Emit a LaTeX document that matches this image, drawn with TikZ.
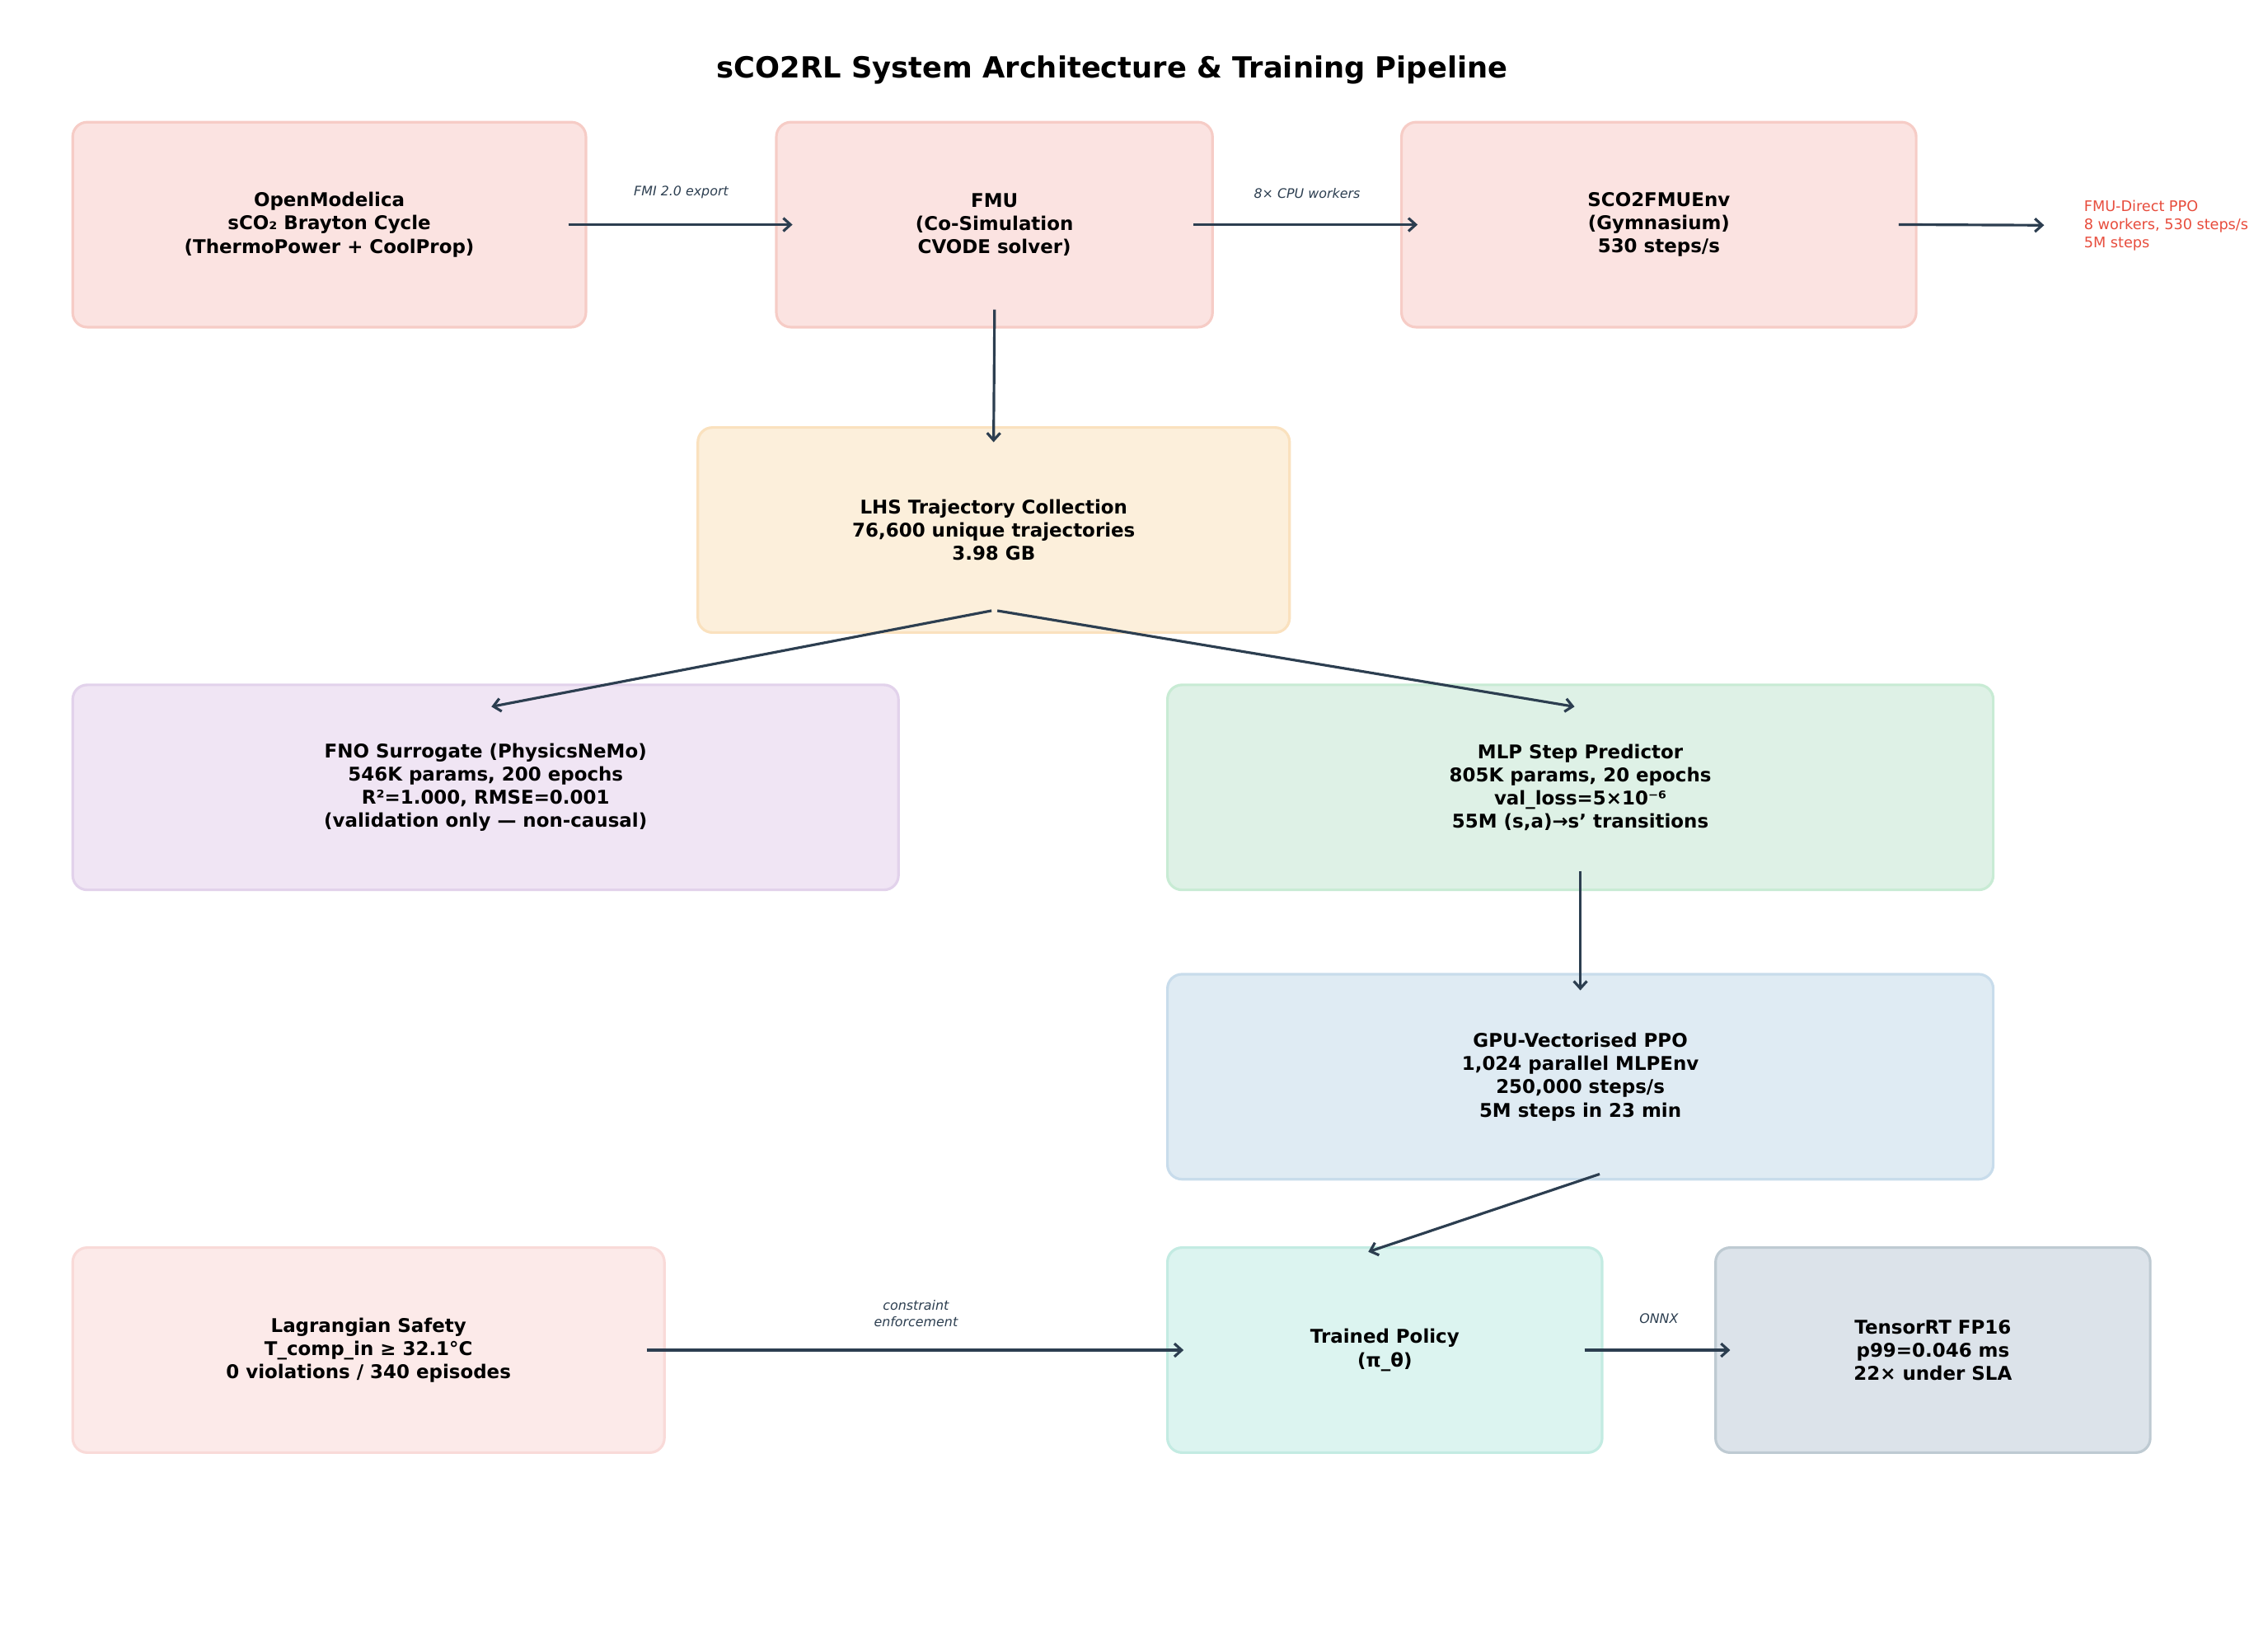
\documentclass[tikz,border=0pt]{standalone}
\usepackage{fontspec}
\setmainfont{DejaVu Sans}
\usetikzlibrary{arrows.meta}
\definecolor{ink}{HTML}{2C3E50}
\definecolor{pkF}{HTML}{FBE3E1}\definecolor{pkD}{HTML}{F6CCC6}
\definecolor{orF}{HTML}{FCEFDB}\definecolor{orD}{HTML}{FAE1BE}
\definecolor{puF}{HTML}{F0E5F4}\definecolor{puD}{HTML}{E2D2EB}
\definecolor{grF}{HTML}{DEF1E6}\definecolor{grD}{HTML}{C8EBD4}
\definecolor{blF}{HTML}{DFEBF3}\definecolor{blD}{HTML}{C8DCEB}
\definecolor{lgF}{HTML}{FCEAE9}\definecolor{lgD}{HTML}{F9DAD8}
\definecolor{tlF}{HTML}{DCF4F0}\definecolor{tlD}{HTML}{C3EBE2}
\definecolor{gyF}{HTML}{DCE3EA}\definecolor{gyD}{HTML}{BECAD2}
\definecolor{redtxt}{HTML}{E74C3C}
\tikzset{
 box/.style={draw=#1, line width=1.8pt, rounded corners=10pt, align=center, font=\fontsize{13}{16}\selectfont\bfseries, inner sep=0pt},
 arr/.style={draw=ink, line width=1.8pt, -{Straight Barb[length=5pt,width=9pt]}},
 lab/.style={font=\fontsize{9}{11}\selectfont\itshape, text=ink, align=center},
}
\begin{document}
\begin{tikzpicture}[x=1pt,y=-1pt]
\useasboundingbox (0,0) rectangle (1560,1122);
\node[font=\fontsize{20}{24}\selectfont\bfseries] (title) at (765,48) {sCO2RL System Architecture \& Training Pipeline};
\node[box=pkD, fill=pkF, minimum width=353pt, minimum height=141pt] (om) at (226.5,154.5) {OpenModelica\\sCO₂ Brayton Cycle\\(ThermoPower + CoolProp)};
\node[box=pkD, fill=pkF, minimum width=300pt, minimum height=141pt] (fmu) at (684,154.5) {FMU\\(Co-Simulation\\CVODE solver)};
\node[box=pkD, fill=pkF, minimum width=354pt, minimum height=141pt] (env) at (1141,154.5) {SCO2FMUEnv\\(Gymnasium)\\530 steps/s};
\node[box=orD, fill=orF, minimum width=407pt, minimum height=141pt] (lhs) at (683.5,364.5) {LHS Trajectory Collection\\76,600 unique trajectories\\3.98 GB};
\node[box=puD, fill=puF, minimum width=568pt, minimum height=141pt] (fno) at (334,541.5) {FNO Surrogate (PhysicsNeMo)\\546K params, 200 epochs\\R²=1.000, RMSE=0.001\\(validation only — non-causal)};
\node[box=grD, fill=grF, minimum width=568pt, minimum height=141pt] (mlp) at (1087,541.5) {MLP Step Predictor\\805K params, 20 epochs\\val\_loss=5×10⁻⁶\\55M (s,a)→s' transitions};
\node[box=blD, fill=blF, minimum width=568pt, minimum height=141pt] (gpu) at (1087,740.5) {GPU-Vectorised PPO\\1,024 parallel MLPEnv\\250,000 steps/s\\5M steps in 23 min};
\node[box=lgD, fill=lgF, minimum width=407pt, minimum height=141pt] (lag) at (253.5,928.5) {Lagrangian Safety\\T\_comp\_in ≥ 32.1°C\\0 violations / 340 episodes};
\node[box=tlD, fill=tlF, minimum width=299pt, minimum height=141pt] (pol) at (952.5,928.5) {Trained Policy\\(π\_θ)};
\node[box=gyD, fill=gyF, minimum width=299pt, minimum height=141pt] (trt) at (1329.5,928.5) {TensorRT FP16\\p99=0.046 ms\\22× under SLA};
\node[align=left, anchor=west, text=redtxt, font=\fontsize{10}{12.5}\selectfont] (direct) at (1430,155) {FMU-Direct PPO\\8 workers, 530 steps/s\\5M steps};
\draw[arr, shorten <=-13pt, shorten >=-12pt] (om.east) -- (fmu.west) node[lab, midway, above=14pt] {FMI 2.0 export};
\draw[arr, shorten <=-14pt, shorten >=-12pt] (fmu.east) -- (env.west) node[lab, midway, above=14pt] {8× CPU workers};
\draw[arr, shorten <=-13pt, shorten >=24pt] (env.east) -- (direct.west);
\draw[arr, shorten <=-13pt, shorten >=-11pt] (fmu.south) -- (lhs.north);
\coordinate (lo) at (682,420); \coordinate (ro) at (686,420);
\coordinate (fi) at (338,486); \coordinate (mi) at (1083,486);
\draw[arr] (lo) -- (fi);
\draw[arr] (ro) -- (mi);
\draw[arr, shorten <=-14pt, shorten >=-12pt] (mlp.south) -- (gpu.north);
\draw[arr, shorten <=-14pt, shorten >=-12pt] (gpu.south) -- (pol.north);
\draw[arr, shorten <=-13pt, shorten >=-12pt] (lag.east) -- (pol.west) node[lab, midway, above=12pt] {constraint\\enforcement};
\draw[arr, shorten <=-13pt, shorten >=-11pt] (pol.east) -- (trt.west) node[lab, midway, above=14pt] {ONNX};
\end{tikzpicture}
\end{document}
